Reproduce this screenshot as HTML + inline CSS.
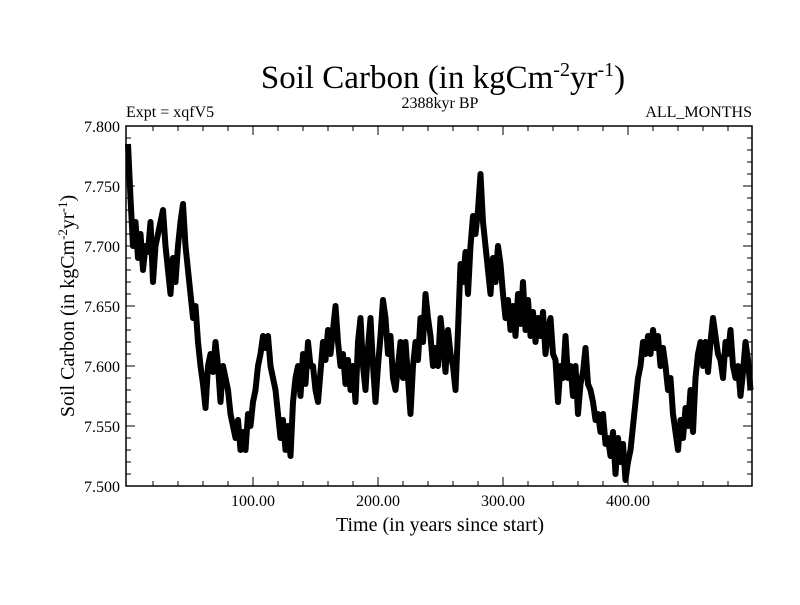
<!DOCTYPE html>
<html><head><meta charset="utf-8"><style>
body{margin:0;background:#fff;}
svg text{font-family:"Liberation Serif",serif;fill:#000;}
</style></head><body>
<svg id="chart" width="800" height="600" xmlns="http://www.w3.org/2000/svg">
<rect width="800" height="600" fill="#fff"/>
<text x="443" y="88" font-size="33" text-anchor="middle">Soil Carbon (in kgCm<tspan font-size="20" dy="-12">-2</tspan><tspan dy="12">yr</tspan><tspan font-size="20" dy="-12">-1</tspan><tspan dy="12">)</tspan></text>
<text x="126" y="117" font-size="16">Expt = xqfV5</text>
<text x="440" y="108" font-size="16" text-anchor="middle">2388kyr BP</text>
<text x="752" y="117" font-size="16" text-anchor="end">ALL_MONTHS</text>
<text transform="translate(74,306) rotate(-90)" font-size="20" text-anchor="middle">Soil Carbon (in kgCm<tspan font-size="13" dy="-7">-2</tspan><tspan dy="7">yr</tspan><tspan font-size="13" dy="-7">-1</tspan><tspan dy="7">)</tspan></text>
<text x="440" y="531" font-size="20" text-anchor="middle">Time (in years since start)</text>
<g id="ticks"></g>
<g id="series"></g>
<rect x="126" y="126" width="626" height="360" fill="none" stroke="#000" stroke-width="1.5"/>
</svg>
<script>
const yTickValues=[7.5,7.55,7.6,7.65,7.7,7.75,7.8];
const yTickLabels=["7.500","7.550","7.600","7.650","7.700","7.750","7.800"];
const xTickValues=[100,200,300,400];
const xTickLabels=["100.00","200.00","300.00","400.00"];
const years=[];for(let i=0;i<250;i++)years.push(i*2);
const carbon=[7.785,7.74,7.70,7.72,7.69,7.71,7.68,7.70,7.695,7.72,7.67,7.70,7.71,7.72,7.73,7.70,7.68,7.66,7.69,7.67,7.70,7.72,7.735,7.70,7.68,7.66,7.64,7.65,7.62,7.60,
7.585,7.565,7.60,7.61,7.595,7.62,7.60,7.57,7.60,7.59,7.58,7.56,7.55,7.54,7.555,7.53,7.545,7.53,7.56,7.55,
7.57,7.58,7.60,7.61,7.625,7.615,7.625,7.60,7.59,7.58,7.56,7.54,7.555,7.53,7.55,7.525,7.57,7.59,7.60,7.575,
7.61,7.585,7.62,7.60,7.60,7.58,7.57,7.595,7.62,7.605,7.63,7.61,7.63,7.65,7.62,7.60,7.61,7.585,7.605,7.58,
7.60,7.57,7.62,7.64,7.60,7.58,7.615,7.64,7.60,7.57,7.60,7.625,7.655,7.64,7.61,7.625,7.59,7.58,7.60,7.62,
7.59,7.62,7.59,7.56,7.60,7.62,7.605,7.64,7.62,7.66,7.64,7.625,7.60,7.615,7.60,7.64,7.62,7.595,7.63,7.61,
7.60,7.58,7.63,7.685,7.67,7.695,7.66,7.70,7.725,7.71,7.73,7.76,7.72,7.70,7.68,7.66,7.69,7.67,7.70,7.685,
7.66,7.64,7.655,7.63,7.65,7.625,7.66,7.635,7.67,7.63,7.655,7.625,7.645,7.62,7.64,7.625,7.645,7.61,7.63,7.64,
7.61,7.605,7.57,7.60,7.59,7.625,7.59,7.60,7.575,7.60,7.56,7.585,7.595,7.615,7.585,7.58,7.57,7.555,7.56,7.545,
7.56,7.535,7.54,7.525,7.545,7.51,7.54,7.52,7.535,7.505,7.52,7.53,7.55,7.57,7.59,7.60,7.62,7.61,7.625,7.61,
7.63,7.615,7.625,7.60,7.615,7.60,7.58,7.59,7.56,7.545,7.53,7.555,7.54,7.565,7.55,7.58,7.545,7.59,7.61,7.62,
7.60,7.62,7.595,7.62,7.64,7.625,7.61,7.605,7.59,7.62,7.61,7.63,7.60,7.59,7.60,7.575,7.595,7.62,7.605,7.58];
const X0=126,X1=752,Y0=486,Y1=126,XMIN=-1.6,XMAX=499.2,YMIN=7.5,YMAX=7.8;
const xs=v=>X0+(v-XMIN)/(XMAX-XMIN)*(X1-X0);
const ys=v=>Y0-(v-YMIN)/(YMAX-YMIN)*(Y0-Y1);
const NS="http://www.w3.org/2000/svg";
const tg=document.getElementById('ticks');
function ln(x1,y1,x2,y2,name){const l=document.createElementNS(NS,'line');
l.setAttribute('x1',x1);l.setAttribute('y1',y1);l.setAttribute('x2',x2);l.setAttribute('y2',y2);
l.setAttribute('stroke','#000');l.setAttribute('stroke-width','1');


tg.appendChild(l);}
function tx(x,y,s,anchor,name){const t=document.createElementNS(NS,'text');
t.setAttribute('x',x);t.setAttribute('y',y);t.setAttribute('font-size','16');t.setAttribute('text-anchor',anchor);t.textContent=s;


tg.appendChild(t);}
for(let v=7.5;v<=7.8001;v+=0.01){const y=ys(v);const major=Math.abs(Math.round(v*20)-v*20)<1e-6;const L=major?9:5;
ln(X0,y,X0+L,y,'y-tick');ln(X1,y,X1-L,y,'y-tick-right');}
yTickValues.forEach((v,i)=>tx(X0-6,ys(v)+6,yTickLabels[i],'end','y-tick-label'));
for(let v=20;v<XMAX;v+=20){const x=xs(v);const L=(v%100===0)?9:5;ln(x,Y0,x,Y0-L,'x-tick');ln(x,Y1,x,Y1+L,'x-tick-top');}
xTickValues.forEach((v,i)=>tx(xs(v),Y0+20,xTickLabels[i],'middle','x-tick-label'));
const p=document.createElementNS(NS,'polyline');
p.setAttribute('points',years.map((t,i)=>xs(t).toFixed(1)+','+ys(carbon[i]).toFixed(1)).join(' '));
p.setAttribute('fill','none');p.setAttribute('stroke','#000');p.setAttribute('stroke-width','6');p.setAttribute('stroke-linejoin','round');


document.getElementById('series').appendChild(p);
</script>
</body></html>
